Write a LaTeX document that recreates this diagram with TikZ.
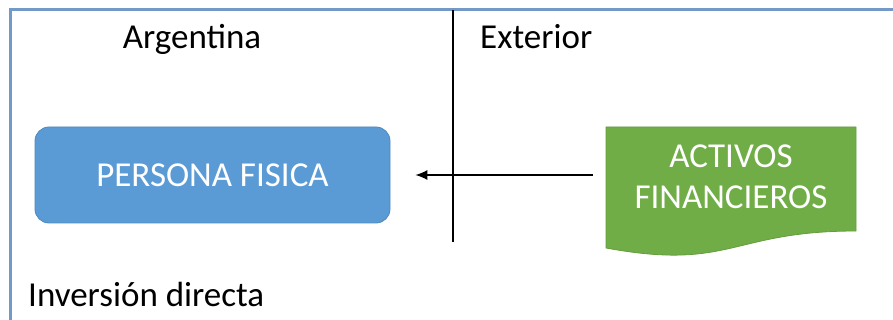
\documentclass[tikz,border=0pt]{standalone}
\usepackage{fontspec}
\setmainfont{Carlito}
\usetikzlibrary{arrows.meta,positioning}

\definecolor{framecol}{HTML}{7399C9}
\definecolor{bluefill}{HTML}{5B9BD5}
\definecolor{blueedge}{HTML}{4F89BF}
\definecolor{greenfill}{HTML}{70AD47}
\definecolor{greenedge}{HTML}{649C3F}

\begin{document}
\begin{tikzpicture}[
        x=1pt, y=-1pt,
        region/.style={font=\fontsize{35}{41}\selectfont, inner sep=0pt},
        entity/.style={rectangle, rounded corners=14pt, draw=blueedge, fill=bluefill, line width=0.8pt, minimum width=355pt, minimum height=96pt, text=white, font=\fontsize{35}{41}\selectfont},
        asset/.style={rectangle, minimum width=250pt, minimum height=96pt, inner sep=0pt, text=white, align=center, font=\fontsize{35}{41}\selectfont},
        frame/.style={draw=framecol, line width=3pt},
        divider/.style={draw=black, line width=1.4pt},
        arrow/.style={-{Latex[length=12pt,width=10pt]}, line width=1.3pt}
    ]
    \useasboundingbox (0,0) rectangle (893,320);

    % outer frame (only top and left edges show)
    \draw[frame] (893,10) -- (10,10) -- (10,320);

    % split between the two sides
    \coordinate (divtop) at (453,10);
    \coordinate (divbot) at (453,242);
    \draw[divider] (divtop) -- (divbot);

    \node[region, anchor=base] (argentina) at (192,49) {Argentina};
    \node[region, anchor=base west] (exterior) at (480,49) {Exterior};

    \node[entity] (persona) at (212.5,175) {PERSONA FISICA};

    % document shape with wavy bottom
    \draw[draw=greenedge, fill=greenfill, line width=0.8pt]
        (606,127) -- (856,127) -- (856,231)
        .. controls (731,231) and (731,271) .. (606,248) -- cycle;
    \node[asset] (activos) at (731,177) {ACTIVOS\\FINANCIEROS};

    \draw[arrow, shorten <=13pt, shorten >=25pt] (activos.west |- persona) -- (persona.east);

    \node[region, anchor=base west] (tipo) at (28,306) {Inversión directa};
\end{tikzpicture}
\end{document}
